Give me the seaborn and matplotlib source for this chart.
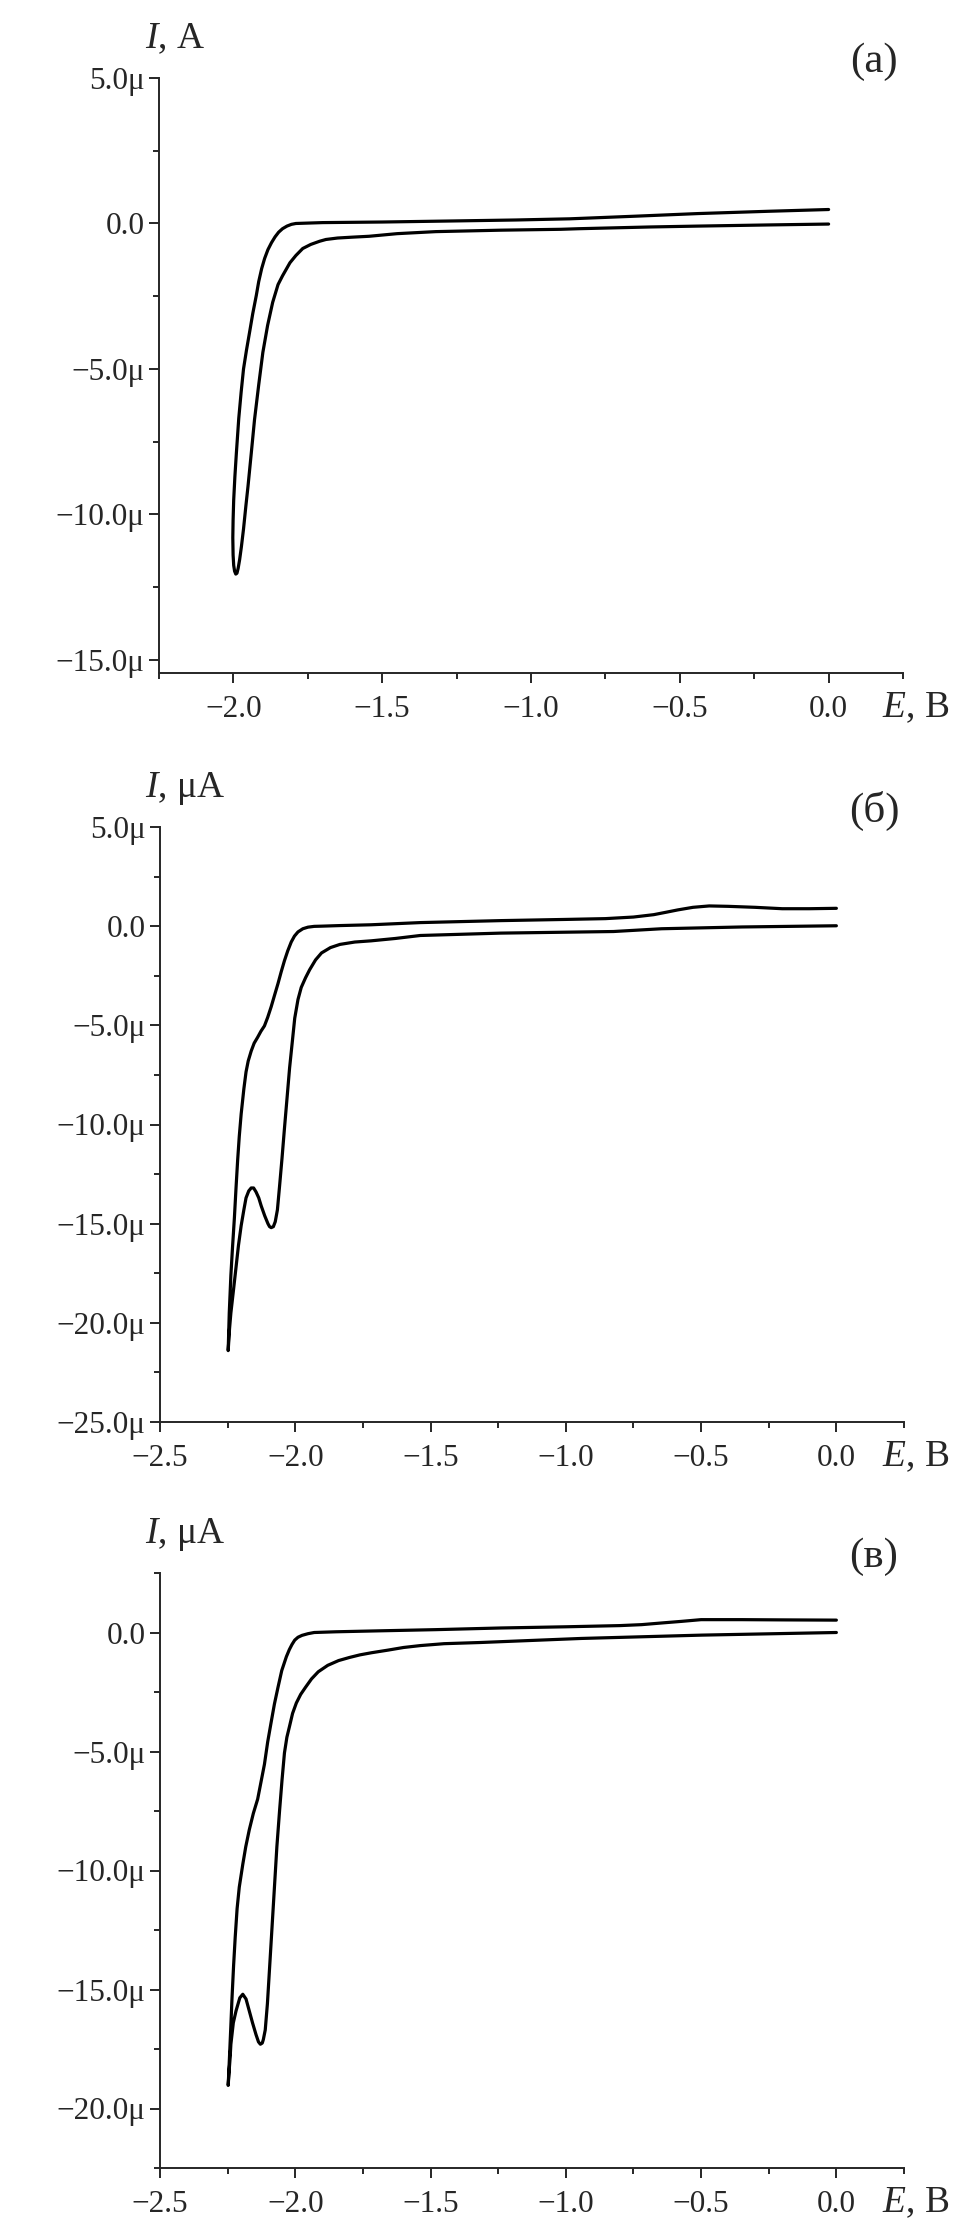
import matplotlib
matplotlib.use("Agg")
import matplotlib.pyplot as plt
from matplotlib.ticker import MultipleLocator, FuncFormatter
import seaborn as sns
import pandas as pd

# --- data (E in V, I in uA), each loop traced in scan order ---
E_a = [0.0, -0.2, -0.44, -0.65, -0.87, -1.05, -1.24, -1.5, -1.7, -1.76, -1.79, -1.805,
       -1.82, -1.835, -1.848, -1.86, -1.872, -1.884, -1.895, -1.905, -1.915, -1.923,
       -1.935, -1.945, -1.956, -1.966, -1.974, -1.982, -1.99, -1.995, -1.999, -2.001,
       -2.002, -2.001, -1.999, -1.996, -1.992, -1.988, -1.984, -1.979, -1.973, -1.966,
       -1.958, -1.951, -1.94, -1.929, -1.915, -1.901, -1.885, -1.868, -1.85, -1.835,
       -1.81, -1.79, -1.767, -1.74, -1.71, -1.689, -1.65, -1.6, -1.544, -1.45, -1.32,
       -1.1, -0.9, -0.84, -0.6, -0.44, -0.2, 0.0]
I_a = [0.48, 0.42, 0.34, 0.25, 0.16, 0.12, 0.09, 0.05, 0.03, 0.01, 0.0, -0.03,
       -0.09, -0.18, -0.3, -0.46, -0.66, -0.9, -1.2, -1.55, -2.0, -2.47,
       -3.1, -3.7, -4.35, -5.0, -5.8, -6.7, -7.89, -8.7, -9.5, -10.19,
       -10.8, -11.4, -11.75, -11.95, -12.05, -12.02, -11.85, -11.55, -11.1, -10.5,
       -9.7, -9.04, -7.9, -6.74, -5.55, -4.43, -3.5, -2.71, -2.1, -1.8,
       -1.35, -1.1, -0.86, -0.72, -0.61, -0.55, -0.5, -0.47, -0.44, -0.35, -0.28,
       -0.23, -0.2, -0.18, -0.12, -0.09, -0.05, -0.02]

E_b = [0.0, -0.1, -0.2, -0.3, -0.4, -0.47, -0.53, -0.586, -0.63, -0.675, -0.75, -0.854,
       -1.0, -1.24, -1.538, -1.72, -1.835, -1.903, -1.93, -1.953, -1.972, -1.99,
       -2.003, -2.015, -2.028, -2.04, -2.052, -2.064, -2.077, -2.089, -2.102, -2.114,
       -2.127, -2.139, -2.152, -2.163, -2.174, -2.182, -2.19, -2.2, -2.207, -2.213,
       -2.219, -2.225, -2.232, -2.238, -2.244, -2.248,
       -2.243, -2.238, -2.228, -2.219, -2.21, -2.2, -2.19, -2.182, -2.172, -2.163,
       -2.154, -2.145, -2.135, -2.126, -2.113, -2.101, -2.095, -2.089, -2.081, -2.074,
       -2.066, -2.058, -2.049, -2.04, -2.03, -2.021, -2.01, -2.002, -1.99, -1.978,
       -1.962, -1.947, -1.925, -1.903, -1.87, -1.835, -1.78, -1.72, -1.63, -1.538,
       -1.24, -0.824, -0.646, -0.348, 0.0]
I_b = [0.9, 0.88, 0.88, 0.95, 1.0, 1.02, 0.95, 0.82, 0.7, 0.58, 0.46, 0.38,
       0.34, 0.28, 0.18, 0.07, 0.03, 0.0, -0.01, -0.05, -0.13, -0.29,
       -0.5, -0.8, -1.25, -1.74, -2.3, -2.9, -3.5, -4.06, -4.6, -5.03,
       -5.3, -5.6, -5.9, -6.3, -6.8, -7.35, -8.2, -9.47, -10.6, -11.8,
       -13.2, -14.7, -16.2, -17.6, -19.5, -21.4,
       -20.3, -19.5, -18.3, -17.2, -16.1, -15.1, -14.3, -13.7, -13.35, -13.2,
       -13.2, -13.4, -13.7, -14.1, -14.6, -15.0, -15.15, -15.2, -15.15, -14.9,
       -14.3, -13.1, -11.7, -10.2, -8.6, -7.15, -5.7, -4.64, -3.7, -3.09,
       -2.6, -2.2, -1.7, -1.35, -1.08, -0.92, -0.8, -0.74, -0.62, -0.47,
       -0.35, -0.27, -0.13, -0.04, 0.02]

E_c = [0.0, -0.2, -0.35, -0.5, -0.57, -0.646, -0.72, -0.8, -1.0, -1.24, -1.48, -1.69,
       -1.85, -1.93, -1.953, -1.975, -1.99, -2.002, -2.012, -2.022, -2.033, -2.05,
       -2.064, -2.077, -2.089, -2.102, -2.114, -2.127, -2.139, -2.155, -2.17, -2.183,
       -2.194, -2.207, -2.215, -2.222, -2.228, -2.234, -2.238, -2.243, -2.248,
       -2.245, -2.241, -2.238, -2.229, -2.219, -2.205, -2.194, -2.182, -2.17, -2.158,
       -2.145, -2.136, -2.129, -2.122, -2.118, -2.111, -2.103, -2.095, -2.086, -2.077,
       -2.068, -2.058, -2.049, -2.04, -2.031, -2.021, -2.01, -1.996, -1.98, -1.962,
       -1.94, -1.915, -1.88, -1.84, -1.8, -1.761, -1.718, -1.657, -1.6, -1.538,
       -1.45, -1.315, -0.943, -0.497, 0.0]
I_c = [0.52, 0.53, 0.54, 0.54, 0.47, 0.4, 0.33, 0.29, 0.24, 0.19, 0.12, 0.07,
       0.03, 0.0, -0.05, -0.12, -0.2, -0.32, -0.5, -0.72, -1.02, -1.6,
       -2.31, -3.0, -3.76, -4.6, -5.54, -6.3, -7.0, -7.6, -8.29, -9.0,
       -9.74, -10.7, -11.6, -12.8, -14.0, -15.4, -16.5, -17.8, -19.03,
       -18.5, -17.9, -17.3, -16.4, -15.9, -15.35, -15.2, -15.4, -15.9, -16.4,
       -16.9, -17.2, -17.3, -17.25, -17.1, -16.7, -15.6, -14.1, -12.4, -10.7,
       -9.0, -7.48, -6.2, -5.06, -4.4, -3.93, -3.4, -2.96, -2.6, -2.3,
       -1.95, -1.65, -1.38, -1.18, -1.05, -0.94, -0.85, -0.74, -0.63, -0.55,
       -0.47, -0.42, -0.25, -0.11, 0.0]

sns.set_style("ticks")
plt.rcParams["font.family"] = ["Liberation Serif", "DejaVu Serif"]
plt.rcParams["mathtext.fontset"] = "custom"
plt.rcParams["mathtext.rm"] = "Liberation Serif"
plt.rcParams["mathtext.it"] = "Liberation Serif:italic"

W, H = 972, 2227


def fmt_x(v, pos):
    return f"{v:.1f}".replace("-", "\u2212")


def fmt_y(v, pos):
    if abs(v) < 1e-9:
        return "0.0"
    return f"{v:.1f}\u03bc".replace("-", "\u2212")


def draw_panel(rect_px, E, I, xlim, ylim, ylab, tag):
    left, top, right, bottom = rect_px
    ax = fig.add_axes([left / W, 1 - bottom / H, (right - left) / W, (bottom - top) / H])
    df = pd.DataFrame({"E": E, "I": I})
    sns.lineplot(data=df, x="E", y="I", sort=False, estimator=None, color="black",
                 lw=2.3, ax=ax, solid_joinstyle="round", solid_capstyle="round")
    ax.set_xlim(*xlim)
    ax.set_ylim(*ylim)
    ax.xaxis.set_major_locator(MultipleLocator(0.5))
    ax.xaxis.set_minor_locator(MultipleLocator(0.25))
    ax.yaxis.set_major_locator(MultipleLocator(5))
    ax.yaxis.set_minor_locator(MultipleLocator(2.5))
    ax.xaxis.set_major_formatter(FuncFormatter(fmt_x))
    ax.yaxis.set_major_formatter(FuncFormatter(fmt_y))
    sns.despine(ax=ax)
    for s in ("left", "bottom"):
        ax.spines[s].set_linewidth(1.4)
    ax.tick_params(which="major", length=7.5, width=1.4, labelsize=22.5, direction="out")
    ax.tick_params(which="minor", length=4.5, width=1.4, direction="out")
    ax.tick_params(axis="y", pad=3)
    ax.tick_params(axis="x", pad=8)
    ax.set_xlabel("")
    ax.set_ylabel("")
    h = bottom - top
    w = right - left
    ax.text((145 - left) / w, 1 + 30 / h, ylab, transform=ax.transAxes,
            ha="left", va="baseline", fontsize=27)
    ax.text((874 - left) / w, 1 + 16 / h, tag, transform=ax.transAxes,
            ha="center", va="center", fontsize=31)
    ax.text((882 - left) / w, -35 / h, r"$\mathit{E}$, В", transform=ax.transAxes,
            ha="left", va="center", fontsize=27)
    return ax


fig = plt.figure(figsize=(W / 100, H / 100), dpi=100)

draw_panel((159, 78, 903, 673), E_a, I_a, (-2.25, 0.25), (-15.45, 5.0),
           r"$\mathit{I}$, A", "(a)")
draw_panel((160, 827, 904, 1422), E_b, I_b, (-2.5, 0.25), (-25.0, 5.0),
           r"$\mathit{I}$, μA", "(б)")
draw_panel((160, 1573, 904, 2168), E_c, I_c, (-2.5, 0.25), (-22.5, 2.5),
           r"$\mathit{I}$, μA", "(в)")

fig.savefig("out.png", dpi=100)
